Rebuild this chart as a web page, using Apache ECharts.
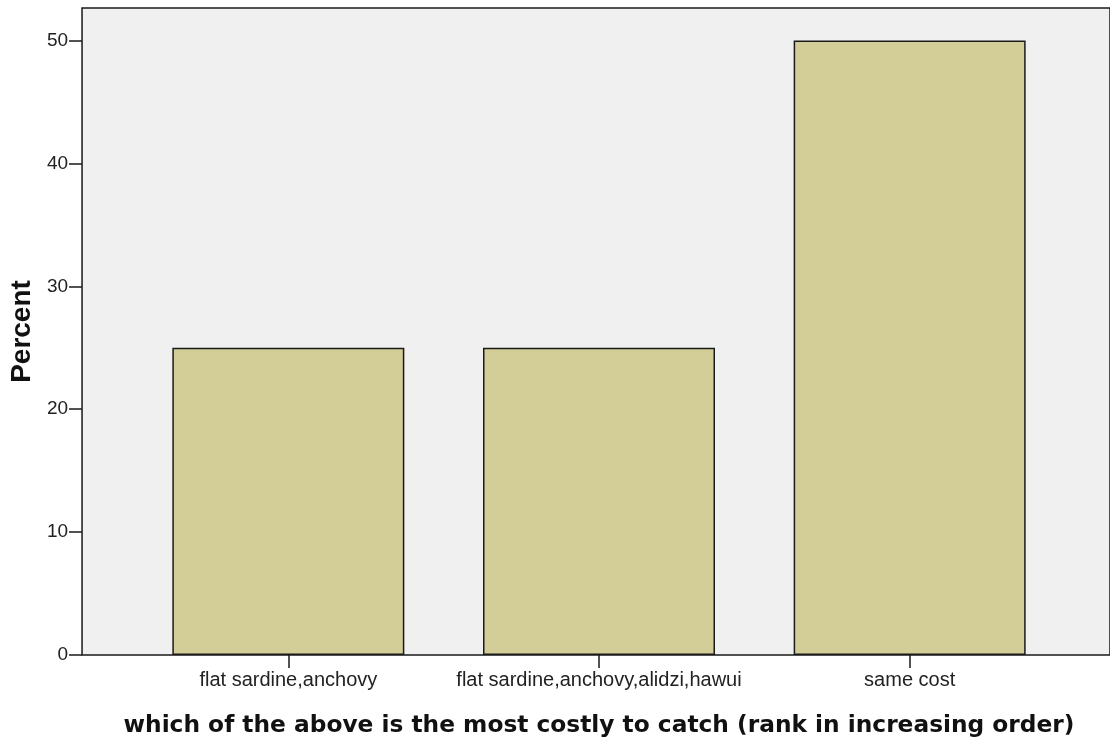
<!DOCTYPE html>
<html>
<head>
<meta charset="utf-8">
<script src="https://cdn.jsdelivr.net/npm/echarts@6/dist/echarts.min.js"></script>
<style>
html, body { margin: 0; padding: 0; background: #fff; }
#chart { width: 1110px; height: 742px; }
</style>
</head>
<body>
<div id="chart"></div>
<script>
// data
const categories = ['flat sardine,anchovy', 'flat sardine,anchovy,alidzi,hawui', 'same cost']
const percents = [25, 25, 50]
const yTicks = [0, 10, 20, 30, 40, 50]

const xTitle = 'which of the above is the most costly to catch (rank in increasing order)'
const yTitle = 'Percent'

const yMin = yTicks[0]
const yMax = 52.65

let myChart = echarts.init(document.getElementById('chart'))
myChart.setOption({
  animation: false,
  grid: [
    // frame + background
    {
      left: 80, top: 8, right: -2, bottom: 87,
      show: true,
      backgroundColor: '#f0f0f0',
      borderColor: '#1a1a1a',
      borderWidth: 1.5
    },
    // bars
    { left: 133, width: 932, top: 8, bottom: 87 }
  ],
  xAxis: [
    { gridIndex: 0, type: 'value', show: false },
    {
      gridIndex: 1,
      type: 'category',
      data: categories,
      axisLine: { show: false },
      axisTick: { show: true, interval: 0, alignWithLabel: true, length: 13, lineStyle: { color: '#1a1a1a', width: 1.5 } },
      axisLabel: { interval: 0, hideOverlap: false, color: '#222', fontFamily: 'Liberation Sans', fontSize: 20, margin: 15 },
      name: xTitle,
      nameLocation: 'middle',
      nameGap: 59,
      nameTextStyle: { color: '#111', fontFamily: 'DejaVu Sans', fontWeight: 'bold', fontSize: 23.3 }
    }
  ],
  yAxis: [
    {
      gridIndex: 0,
      type: 'value',
      min: yMin,
      max: yMax,
      interval: 10,
      splitLine: { show: false },
      axisLine: { show: false },
      axisTick: { show: true, length: 13, customValues: yTicks, lineStyle: { color: '#1a1a1a', width: 1.5 } },
      axisLabel: {
        color: '#222', fontFamily: 'Liberation Sans', fontSize: 19, margin: 14,
        customValues: yTicks
      },
      name: yTitle,
      nameLocation: 'middle',
      nameGap: 44,
      nameTextStyle: { color: '#111', fontFamily: 'Liberation Sans', fontWeight: 'bold', fontSize: 28 }
    },
    { gridIndex: 1, type: 'value', min: yMin, max: yMax, show: false }
  ],
  series: [
    {
      type: 'bar',
      xAxisIndex: 1,
      yAxisIndex: 1,
      data: percents,
      barWidth: 232,
      itemStyle: { color: '#d3ce97', borderColor: '#1a1a1a', borderWidth: 1.5 }
    }
  ]
})
</script>
</body>
</html>
